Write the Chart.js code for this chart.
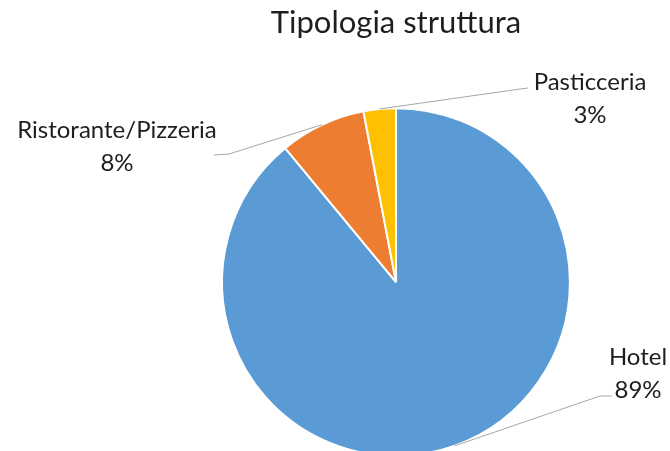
<!DOCTYPE html>
<html>
<head>
<meta charset="utf-8">
<script src="https://cdn.jsdelivr.net/npm/chart.js@4"></script>
<style>
  html, body { margin: 0; padding: 0; background: #fff; }
  #wrap { width: 670px; height: 451px; overflow: hidden; position: relative; }
</style>
</head>
<body>
<div id="wrap">
  <canvas id="graficoTorta" width="670" height="470"></canvas>
</div>
<script>
const categorie = ['Hotel', 'Ristorante/Pizzeria', 'Pasticceria']
const valori = [89, 8, 3]
const colori = ['#5B9BD5', '#ED7D31', '#FFC000']

// dove mettere le etichette esterne (centro testo, gomito della linea)
const posEtichette = [
  { x: 638, y: 357, gomito: [600, 396], fine: [612, 396] },
  { x: 117, y: 130, gomito: [229, 154], fine: [214, 155] },
  { x: 590, y: 82, gomito: [520, 89], fine: [528, 88] },
]

const etichetteEsterne = {
  id: 'etichetteEsterne',
  afterDraw(chart) {
    const ctx = chart.ctx
    const meta = chart.getDatasetMeta(0)
    const totale = valori.reduce((a, b) => a + b, 0)
    ctx.save()
    meta.data.forEach((arco, i) => {
      const p = arco.getProps(['x', 'y', 'startAngle', 'endAngle', 'outerRadius'], true)
      const medio = (p.startAngle + p.endAngle) / 2
      const x0 = p.x + Math.cos(medio) * p.outerRadius
      const y0 = p.y + Math.sin(medio) * p.outerRadius
      const pos = posEtichette[i]

      ctx.strokeStyle = '#a6a6a6'
      ctx.lineWidth = 1
      ctx.beginPath()
      ctx.moveTo(x0, y0)
      ctx.lineTo(pos.gomito[0], pos.gomito[1])
      ctx.lineTo(pos.fine[0], pos.fine[1])
      ctx.stroke()

      ctx.fillStyle = '#1e1e1e'
      ctx.font = '24px Lato'
      ctx.textAlign = 'center'
      ctx.textBaseline = 'middle'
      ctx.fillText(categorie[i], pos.x, pos.y)
      ctx.fillText(Math.round(valori[i] / totale * 100) + '%', pos.x, pos.y + 33)
    })
    ctx.restore()
  }
}

const torta = document.getElementById('graficoTorta')

new Chart(torta, {
  type: 'pie',
  data: {
    labels: categorie,
    datasets: [
      {
        data: valori,
        backgroundColor: colori,
        borderColor: '#ffffff',
        borderWidth: 2,
      },
    ],
  },
  options: {
    responsive: false,
    animation: false,
    devicePixelRatio: 1,
    layout: {
      padding: { left: 221, right: 99, top: 0, bottom: 13 },
    },
    plugins: {
      legend: { display: false },
      tooltip: { enabled: false },
      title: {
        display: true,
        text: 'Tipologia struttura',
        color: '#1e1e1e',
        font: { family: 'Lato', size: 31, weight: 'normal' },
        padding: { top: 4, bottom: 66 },
      },
    },
  },
  plugins: [etichetteEsterne],
})
</script>
</body>
</html>
